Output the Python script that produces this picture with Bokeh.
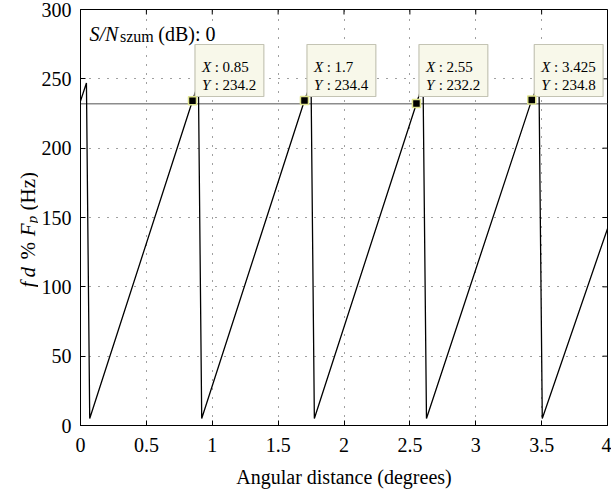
import math
from bokeh.plotting import figure
from bokeh.layouts import row
from bokeh.models import FixedTicker, Range1d
from bokeh.core.properties import value
from bokeh.embed import file_html
from bokeh.resources import INLINE

# ---------------- data ----------------
saw_x = [0.0, 0.045, 0.070, 0.85, 0.895, 0.920, 1.70, 1.750, 1.775,
         2.55, 2.600, 2.626, 3.425, 3.480, 3.505, 4.0]
saw_y = [234.0, 247.0, 5.0, 234.2, 247.0, 5.0, 234.4, 247.0, 5.0,
         232.2, 247.0, 5.0, 234.8, 247.0, 5.0, 142.0]

tip_x = [0.85, 1.7, 2.55, 3.425]
tip_y = [234.2, 234.4, 232.2, 234.8]
tip_x_text = ["0.85", "1.7", "2.55", "3.425"]
tip_y_text = ["234.2", "234.4", "232.2", "234.8"]

ref_level = 232.0
snr_db = "0"

x_ticks = [0, 0.5, 1, 1.5, 2, 2.5, 3, 3.5, 4]
x_tick_labels = ["0", "0.5", "1", "1.5", "2", "2.5", "3", "3.5", "4"]
y_ticks = [0, 50, 100, 150, 200, 250, 300]
y_tick_labels = ["0", "50", "100", "150", "200", "250", "300"]
x_title = "Angular distance (degrees)"
NB = "\u00a0"
y_title_parts = ["f\u2009d", NB + "%" + NB, "F", "p", NB + "(Hz)"]

# ---------------- geometry ----------------
W, H = 611, 494
LW = 38                      # width of the strip holding the y title
ML, MR, MT, MB = 79, 4, 9, 69  # frame insets within the page
X0, X1, Y0, Y1 = 0.0, 4.0, 0.0, 300.0
FW, FH = W - ML - MR, H - MT - MB


def dx(px):
    return px * (X1 - X0) / FW


def dy(px):
    return px * (Y1 - Y0) / FH


def sx(px):
    return X0 + dx(px - ML)


def sy(py):
    return Y1 - dy(py - MT)


FONT = "Liberation Serif"

p = figure(width=W - LW, height=H, x_range=Range1d(X0, X1), y_range=Range1d(Y0, Y1),
           output_backend="svg", toolbar_location=None,
           min_border_left=ML - LW, min_border_right=MR, min_border_top=MT,
           min_border_bottom=MB)
p.background_fill_color = "white"
p.border_fill_color = "white"
p.outline_line_color = "black"
p.outline_line_width = 1

for ax in (p.xaxis[0], p.yaxis[0]):
    ax.major_tick_in = 5
    ax.major_tick_out = 0
    ax.minor_tick_line_color = None
    ax.axis_line_color = "black"
    ax.major_tick_line_color = "black"
    ax.major_label_text_font = FONT
    ax.major_label_text_font_size = "20px"
    ax.major_label_text_color = "black"

p.xaxis.ticker = FixedTicker(ticks=x_ticks)
p.xaxis.major_label_overrides = {t: s for t, s in zip(x_ticks, x_tick_labels)}
p.xaxis.major_label_standoff = 12
p.xaxis.axis_label = x_title
p.xaxis.axis_label_text_font = FONT
p.xaxis.axis_label_text_font_size = "20px"
p.xaxis.axis_label_text_font_style = "normal"
p.xaxis.axis_label_text_color = "black"
p.xaxis.axis_label_standoff = 11

p.yaxis.ticker = FixedTicker(ticks=y_ticks)
p.yaxis.major_label_overrides = {t: s for t, s in zip(y_ticks, y_tick_labels)}
p.yaxis.major_label_standoff = 9

# grid
p.xgrid.ticker = FixedTicker(ticks=x_ticks)
p.ygrid.ticker = FixedTicker(ticks=y_ticks)
for g in (p.xgrid[0], p.ygrid[0]):
    g.grid_line_color = "#404040"
    g.grid_line_dash = "1 8"
    g.grid_line_width = 1

# inward ticks on the top and right edges of the box
p.segment(x0=x_ticks, x1=x_ticks, y0=[Y1] * len(x_ticks), y1=[Y1 - dy(5)] * len(x_ticks),
          line_color="black", line_width=1)
p.segment(x0=[X1] * len(y_ticks), x1=[X1 - dx(5)] * len(y_ticks), y0=y_ticks, y1=y_ticks,
          line_color="black", line_width=1)

# reference level line
p.segment(x0=[X0], x1=[X1], y0=[ref_level], y1=[ref_level],
          line_color="#8c8c8c", line_width=1.5)

# sawtooth
p.line(saw_x, saw_y, line_color="black", line_width=1.3)

# data tip boxes
box_left = [x + dx(2.5) for x in tip_x]
box_right = [l + dx(69) for l in box_left]
box_bottom = [sy(96)] * len(tip_x)
box_top = [sy(44)] * len(tip_x)
p.quad(left=box_left, right=box_right, bottom=box_bottom, top=box_top,
       fill_color="#f8f8ea", line_color="#c4c4b4", line_width=1.2)

lab_x = [l + dx(7) for l in box_left]
val_x = [l + dx(16) for l in box_left]
line1_y = [sy(66)] * len(tip_x)
line2_y = [sy(84.5)] * len(tip_x)
common = dict(text_font=value(FONT), text_font_size="15px", text_color="black",
              text_baseline="alphabetic", text_align="left")
p.text(x=lab_x, y=line1_y, text=["X"] * len(tip_x), text_font_style="italic", **common)
p.text(x=lab_x, y=line2_y, text=["Y"] * len(tip_x), text_font_style="italic", **common)
p.text(x=val_x, y=line1_y, text=[NB + ":" + NB + s for s in tip_x_text], **common)
p.text(x=val_x, y=line2_y, text=[NB + ":" + NB + s for s in tip_y_text], **common)

# markers
p.scatter(tip_x, tip_y, marker="square", size=8, fill_color="black",
          line_color="#dfe38e", line_width=1.5)

# top-left annotation
p.text(x=[sx(88)], y=[sy(33)], text=["S/N"], text_font=value(FONT), text_font_size="20px",
       text_font_style="italic", text_baseline="alphabetic", text_color="black")
p.text(x=[sx(118.5)], y=[sy(36)], text=["szum"], text_font=value(FONT),
       text_font_size="16px", text_baseline="alphabetic", text_color="black")
p.text(x=[sx(152)], y=[sy(33)], text=[NB + "(dB): " + snr_db], text_font=value(FONT),
       text_font_size="20px", text_baseline="alphabetic", text_color="black")

# strip with the rotated y-axis title; its frame lines up with the main frame
t = figure(width=LW, height=H, x_range=Range1d(0, LW), y_range=Range1d(Y0, Y1),
           output_backend="svg", toolbar_location=None, x_axis_type=None, y_axis_type=None,
           min_border_left=0, min_border_right=0, min_border_top=MT, min_border_bottom=MB)
t.outline_line_color = None
t.grid.visible = False
t.background_fill_color = "white"
t.border_fill_color = "white"

styles = ["italic", "normal", "italic", "italic", "normal"]
sizes = [21, 21, 21, 15, 21]
shifts = [0, 0, 0, 4, 0]
widths = [1.08 * 21, 1.36 * 21, 0.62 * 21, 0.5 * 15, 2.082 * 21]
start_py = 287.0
cum = 0.0
for txt, style, size, shift, w in zip(y_title_parts, styles, sizes, shifts, widths):
    t.text(x=[27 + shift], y=[sy(start_py - cum)], text=[txt], angle=math.pi / 2,
           text_font=value(FONT), text_font_size=f"{size}px", text_font_style=style,
           text_align="left", text_baseline="middle", text_color="black")
    cum += w

layout = row(t, p, spacing=0)
open("out.html", "w").write(file_html(layout, INLINE))
